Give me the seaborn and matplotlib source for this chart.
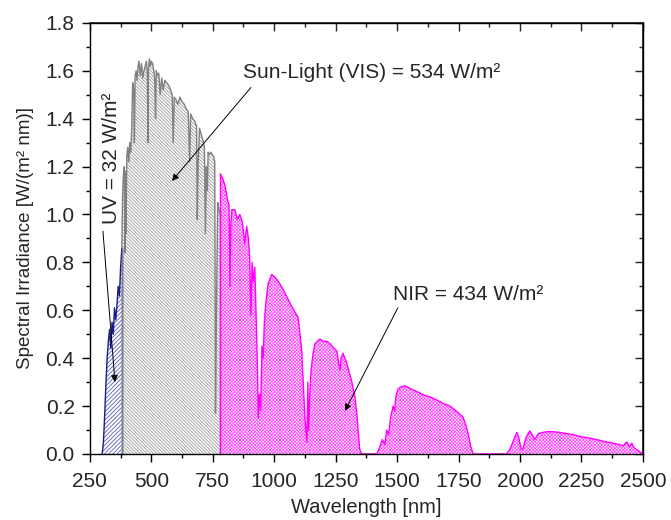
import matplotlib
matplotlib.use("Agg")
import matplotlib.pyplot as plt
import seaborn as sns
import numpy as np
from matplotlib.ticker import MultipleLocator

# UV band (300-380 nm)
uv_wl = [300, 305, 310, 315, 320, 325, 330, 335, 340, 345, 350, 355, 360, 365, 370, 375, 380]
uv_val = [0.0, 0.05, 0.16, 0.29, 0.40, 0.47, 0.52, 0.44, 0.55, 0.50, 0.61, 0.56, 0.62, 0.70, 0.66, 0.78, 0.86]

# visible band (380-780 nm)
vis_wl = [380, 383, 386, 390, 393, 395, 397, 400, 404, 408, 412, 416, 420, 424, 428, 431, 434, 438,
          442, 446, 450, 455, 460, 465, 470, 475, 480, 484, 486, 488, 492, 496, 500, 505, 510, 514,
          517, 520, 525, 530, 536, 542, 548, 555, 562, 570, 578, 585, 589, 593, 600, 608, 616, 625,
          634, 642, 650, 656, 660, 668, 676, 684, 687, 690, 696, 704, 710, 716, 720, 724, 728, 731,
          736, 742, 748, 754, 758, 761, 765, 770, 775, 780]
vis_val = [0.86, 1.08, 1.16, 1.20, 0.84, 1.18, 0.92, 1.24, 1.28, 1.22, 1.30, 1.26, 1.36, 1.55, 1.52, 1.30, 1.58, 1.60,
           1.56, 1.62, 1.64, 1.58, 1.63, 1.57, 1.60, 1.62, 1.64, 1.58, 1.30, 1.60, 1.65, 1.62, 1.64, 1.63, 1.60, 1.56,
           1.40, 1.60, 1.58, 1.59, 1.50, 1.57, 1.52, 1.56, 1.55, 1.54, 1.52, 1.50, 1.30, 1.49, 1.48, 1.46, 1.49, 1.47,
           1.46, 1.44, 1.43, 1.22, 1.42, 1.40, 1.39, 1.37, 0.98, 1.20, 1.36, 1.33, 1.31, 1.28, 0.92, 1.20, 1.10, 1.26,
           1.25, 1.26, 1.25, 1.24, 1.22, 0.17, 0.60, 1.05, 1.02, 1.00]

# near infrared (780-2500 nm), three windows
nir1_wl = [780, 790, 800, 810, 816, 820, 823, 828, 840, 850, 860, 870, 880, 888, 895, 900, 905, 910, 915, 921,
           927, 932, 935, 940, 945, 950, 955, 960, 965, 975, 990, 1000, 1010, 1023, 1040, 1064, 1080, 1097, 1105, 1112,
           1118, 1125, 1133, 1137, 1140, 1145, 1150, 1158, 1166, 1176, 1186, 1200, 1215, 1227, 1245, 1255, 1262, 1268,
           1272, 1280, 1295, 1316, 1328, 1336, 1343, 1348, 1355]
nir1_val = [1.17, 1.15, 1.12, 1.06, 1.04, 0.70, 0.95, 1.02, 1.02, 0.98, 1.00, 0.97, 0.88, 0.95, 0.90, 0.82, 0.58, 0.80, 0.72, 0.78,
            0.55, 0.35, 0.15, 0.25, 0.18, 0.45, 0.40, 0.55, 0.62, 0.71, 0.75, 0.74, 0.73, 0.71, 0.68, 0.63, 0.60, 0.57, 0.50, 0.43,
            0.30, 0.15, 0.05, 0.30, 0.10, 0.25, 0.35, 0.42, 0.46, 0.47, 0.48, 0.47, 0.47, 0.46, 0.44, 0.43, 0.38, 0.35,
            0.40, 0.42, 0.38, 0.30, 0.24, 0.17, 0.08, 0.02, 0.0]
nir2_wl = [1418, 1430, 1440, 1450, 1458, 1465, 1475, 1484, 1490, 1495, 1503, 1515, 1532, 1550, 1570, 1593, 1610, 1630,
           1662, 1690, 1715, 1740, 1768, 1780, 1788, 1800, 1810]
nir2_val = [0.0, 0.03, 0.06, 0.04, 0.10, 0.08, 0.16, 0.20, 0.18, 0.24, 0.27, 0.28, 0.285, 0.275, 0.265, 0.255, 0.245, 0.24,
            0.225, 0.21, 0.20, 0.18, 0.155, 0.12, 0.09, 0.03, 0.0]
nir3_wl = [1946, 1960, 1975, 1987, 1995, 2005, 2012, 2025, 2040, 2050, 2060, 2075, 2093, 2110, 2134, 2160, 2190, 2220,
           2244, 2280, 2320, 2353, 2380, 2400, 2420, 2435, 2445, 2455, 2465, 2480, 2500]
nir3_val = [0.0, 0.02, 0.06, 0.09, 0.07, 0.02, 0.02, 0.07, 0.096, 0.08, 0.06, 0.085, 0.09, 0.093, 0.093, 0.09, 0.085, 0.08,
            0.073, 0.067, 0.058, 0.05, 0.045, 0.04, 0.035, 0.05, 0.03, 0.045, 0.025, 0.015, 0.0]

nir_wl = nir1_wl + nir2_wl + nir3_wl
nir_val = nir1_val + nir2_val + nir3_val

sns.set_theme(style="ticks")
plt.rcParams["font.family"] = ["Liberation Sans", "DejaVu Sans"]
plt.rcParams["hatch.linewidth"] = 0.6

fig = plt.figure(figsize=(6.71, 5.2), dpi=100)
ax = fig.add_axes([0.134, 0.127, 0.824, 0.829])

bands = [
    (uv_wl, uv_val, "#1a1a8a", "#5a5ac0", "/" * 8),
    (vis_wl, vis_val, "#808080", "#9a9a9a", "\\" * 10),
    (nir_wl, nir_val, "#ff00ff", "#ff50ff", "x" * 10),
]
for wl, val, line_c, hatch_c, hatch in bands:
    ax.fill_between(wl, 0, val, facecolor="white", edgecolor=hatch_c, hatch=hatch, linewidth=0)
    sns.lineplot(x=wl, y=val, ax=ax, color=line_c, linewidth=1.0)
    ax.vlines([wl[0], wl[-1]], 0, [val[0], val[-1]], color=line_c, linewidth=1.0)

ax.set_xlim(250, 2500)
ax.set_ylim(0, 1.8)
ax.xaxis.set_major_locator(MultipleLocator(250))
ax.xaxis.set_minor_locator(MultipleLocator(125))
ax.yaxis.set_major_locator(MultipleLocator(0.2))
ax.yaxis.set_minor_locator(MultipleLocator(0.1))
ax.yaxis.set_major_formatter(matplotlib.ticker.FormatStrFormatter("%.1f"))
ax.tick_params(which="major", direction="out", length=6, width=1, labelsize=15, color="black")
ax.tick_params(which="minor", direction="out", length=3, width=1, color="black")
ax.tick_params(axis="x", which="major", pad=7)
ax.tick_params(axis="y", which="major", pad=5)

# mirrored inward ticks on top and right
top = ax.secondary_xaxis("top")
top.xaxis.set_major_locator(MultipleLocator(250))
top.xaxis.set_minor_locator(MultipleLocator(125))
top.tick_params(which="major", direction="in", length=6, width=1, labeltop=False)
top.tick_params(which="minor", direction="in", length=3, width=1)
right = ax.secondary_yaxis("right")
right.yaxis.set_major_locator(MultipleLocator(0.2))
right.yaxis.set_minor_locator(MultipleLocator(0.1))
right.tick_params(which="major", direction="in", length=6, width=1, labelright=False)
right.tick_params(which="minor", direction="in", length=3, width=1)

for sp in ax.spines.values():
    sp.set_linewidth(1)
    sp.set_color("black")
    sp.set_visible(True)

ax.set_xlabel("Wavelength [nm]", fontsize=14.5, labelpad=5)
ax.set_ylabel("Spectral Irradiance [W/(m² nm)]", fontsize=13.5, labelpad=8)

arrow = dict(arrowstyle="-|>", color="black", lw=0.7, mutation_scale=10, shrinkA=0, shrinkB=0)
ax.text(873, 1.594, "Sun-Light (VIS) = 534 W/m²", fontsize=15, ha="left", va="center")
ax.annotate("", xy=(584, 1.14), xytext=(905, 1.53), arrowprops=arrow)
ax.text(339, 1.235, "UV = 32 W/m²", fontsize=15, ha="center", va="center", rotation=90)
ax.annotate("", xy=(352, 0.30), xytext=(303, 0.93), arrowprops=arrow)
ax.text(1483, 0.664, "NIR = 434 W/m²", fontsize=15, ha="left", va="center")
ax.annotate("", xy=(1288, 0.18), xytext=(1503, 0.61), arrowprops=arrow)

fig.savefig("out.png", dpi=100)
plt.close(fig)
